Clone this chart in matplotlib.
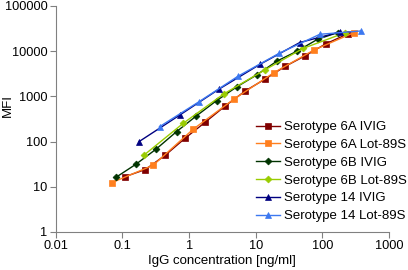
import numpy as np
import matplotlib.pyplot as plt

plt.rcParams['font.family'] = ['Liberation Sans', 'DejaVu Sans']

# ============ Data ============
x_6a_ivig = [0.109, 0.22, 0.44, 0.87, 1.75, 3.5, 7, 14, 28, 56, 112, 240]
y_6a_ivig = [16.7, 24, 50, 118, 268, 615, 1320, 2430, 4630, 7960, 14400, 24000]

x_6a_lot = [0.069, 0.29, 1.15, 4.7, 18.8, 75, 300]
y_6a_lot = [12.3, 30, 187, 865, 3340, 10600, 25700]

x_6b_ivig = [0.08, 0.159, 0.318, 0.65, 1.29, 2.59, 5.27, 10.3, 21, 42, 85, 170]
y_6b_ivig = [16.2, 31.4, 67.5, 166, 370, 804, 1640, 2960, 6050, 10000, 18300, 25700]

x_6b_lot = [0.21, 0.82, 3.3, 13.7, 52, 223]
y_6b_lot = [50, 254, 1125, 3840, 11550, 25700]

x_14_ivig = [0.178, 0.73, 2.83, 11.6, 46, 184]
y_14_ivig = [100, 388, 1450, 5100, 15500, 26500]

x_14_lot = [0.36, 1.42, 5.5, 22.5, 92, 376]
y_14_lot = [213, 765, 2820, 8940, 23600, 27900]

series = [
    ('Serotype 6A IVIG', x_6a_ivig, y_6a_ivig, '#800000', 's', 4),
    ('Serotype 6A Lot-89S', x_6a_lot, y_6a_lot, '#FF7F1E', 's', 4),
    ('Serotype 6B IVIG', x_6b_ivig, y_6b_ivig, '#003300', 'D', 3.5),
    ('Serotype 6B Lot-89S', x_6b_lot, y_6b_lot, '#99CC00', 'D', 3.5),
    ('Serotype 14 IVIG', x_14_ivig, y_14_ivig, '#000080', '^', 5),
    ('Serotype 14 Lot-89S', x_14_lot, y_14_lot, '#3C78F0', '^', 5),
]

# ============ Plot ============
fig = plt.figure(figsize=(4.08, 2.70), dpi=100)
ax = fig.add_axes([0.137, 0.141, 0.816, 0.837])

for label, xs, ys, col, mk, ms in series:
    ax.plot(xs, ys, color=col, marker=mk, markersize=ms, linewidth=1,
            markeredgewidth=0.5, label=label)

ax.set_xscale('log')
ax.set_yscale('log')
ax.set_xlim(0.01, 1000)
ax.set_ylim(1, 100000)
ax.set_xticks([0.01, 0.1, 1, 10, 100, 1000])
ax.set_xticklabels(['0.01', '0.1', '1', '10', '100', '1000'])
ax.set_yticks([1, 10, 100, 1000, 10000, 100000])
ax.set_yticklabels(['1', '10', '100', '1000', '10000', '100000'])
ax.minorticks_off()

for side in ['top', 'right']:
    ax.spines[side].set_visible(False)
for side in ['left', 'bottom']:
    ax.spines[side].set_color('#808080')
ax.tick_params(direction='out', length=4, color='#808080', labelsize=9.2, pad=2)

ax.set_xlabel('IgG concentration [ng/ml]', fontsize=9.5, labelpad=2)
ax.set_ylabel('MFI', fontsize=9.5)
ax.yaxis.set_label_coords(-0.125, 0.56)

ax.legend(loc='lower right', bbox_to_anchor=(1.07, 0.02), frameon=False,
          fontsize=9.5, handlelength=1.8, handletextpad=0.3, labelspacing=0.42,
          borderaxespad=0)

fig.savefig('out.png', dpi=100)
